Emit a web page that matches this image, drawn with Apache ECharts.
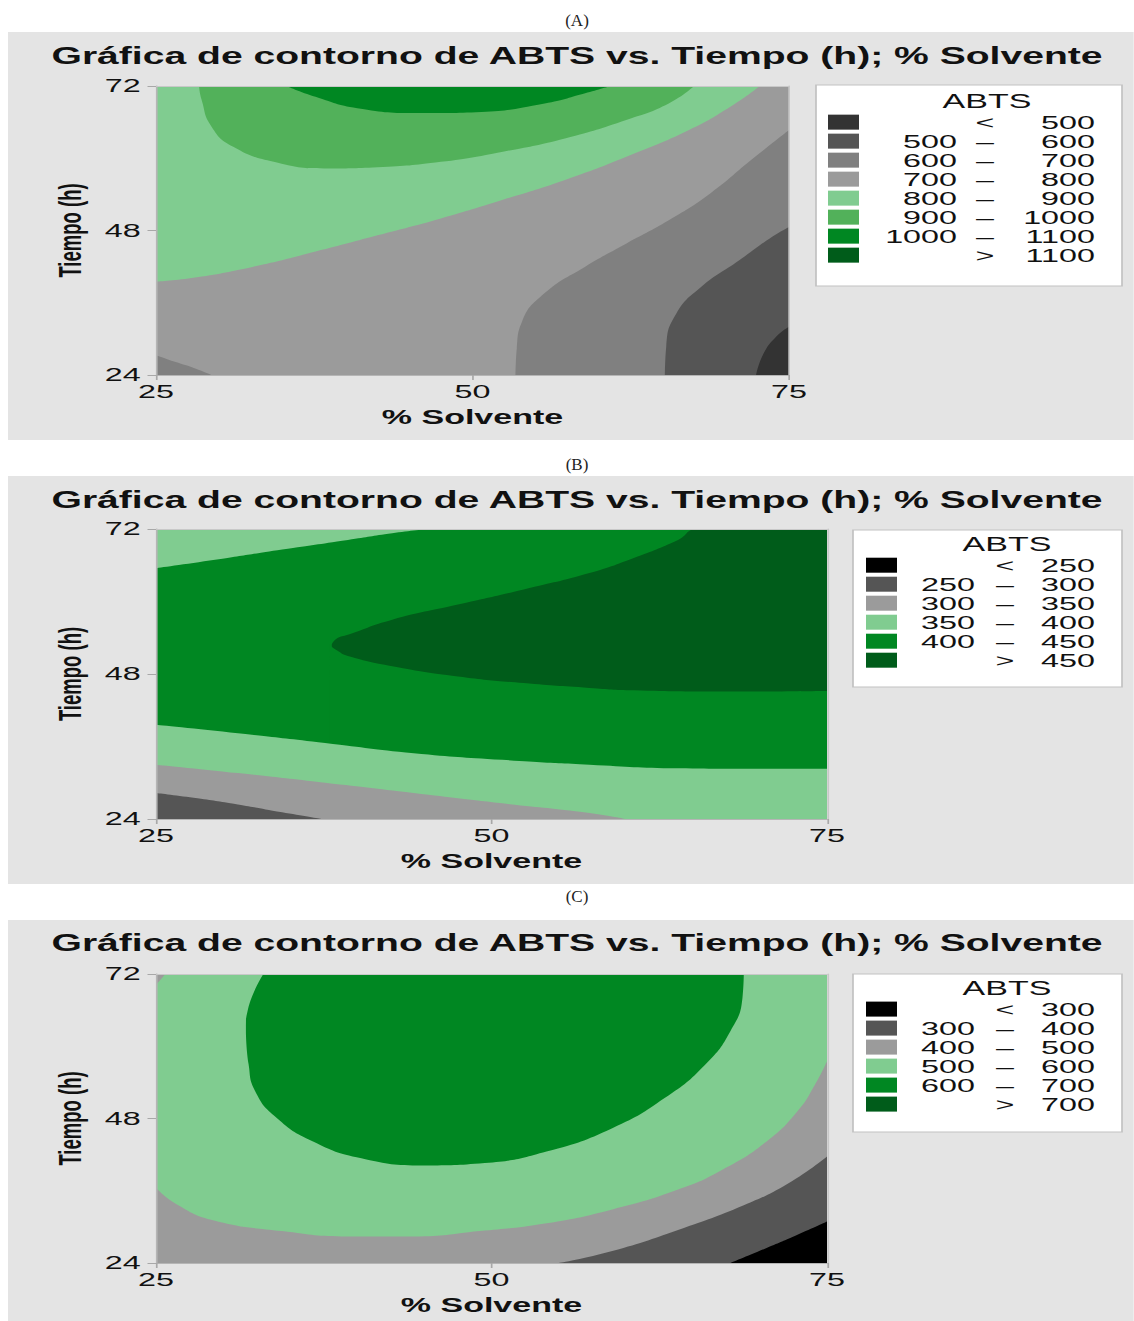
<!DOCTYPE html>
<html>
<head>
<meta charset="utf-8">
<script src="https://cdn.jsdelivr.net/npm/echarts@6/dist/echarts.min.js"></script>
<style>
    body{ margin: 0; background: #fff; }
    #page{ position: relative; width: 1134px; height: 1321px; overflow: hidden; background: #fff; }
    .tag{ position: absolute; left: 0; width: 1154px; text-align: center; font: 17px "Liberation Serif", serif; color: #222; }
    .panel{ position: absolute; left: 8px; background: #e4e4e4; transform-origin: 0 0; }
</style>
</head>
<body>
<div id="page">
    <div class="tag" style="top:11px">(A)</div>
    <div class="panel" id="chartA" style="top:32px;height:408px"></div>
    <div class="tag" style="top:455px">(B)</div>
    <div class="panel" id="chartB" style="top:476px;height:408px"></div>
    <div class="tag" style="top:887px">(C)</div>
    <div class="panel" id="chartC" style="top:920px;height:401px"></div>
</div>
<script>
    // the source picture is stretched sideways, so each chart is drawn narrow and scaled in x
    const S = 1.7;
    const FONT = '"Liberation Sans", Arial, sans-serif';

    const xTicks = [25, 50, 75];
    const yTicks = [24, 48, 72];

    // ABTS contour levels of each plot
    const levelsA = [500, 600, 700, 800, 900, 1000, 1100];
    const levelsB = [250, 300, 350, 400, 450];
    const levelsC = [300, 400, 500, 600, 700];

    // contour lines, [% Solvente, Tiempo (h)]
    // (A)
    const lineA800 = [[25,39.5],[27.8,40.1],[32.7,42.0],[37.6,44.5],[42.5,47.2],[47.5,50.0],[52.4,53.1],[57.3,56.4],[62.2,60.3],[67.1,64.7],[70.4,68.6],[72.7,72]];
    const lineA900 = [[28.4,72],[28.6,69.7],[29.4,65.2],[31.1,61.9],[34.3,59.4],[38.3,58.3],[42.5,58.5],[47.5,59.4],[52.4,61.1],[57.3,63.3],[62.2,66.4],[65.5,69.1],[67.5,72]];
    const lineA1000 = [[35.3,72],[37.6,70.2],[40.9,68.3],[45.8,67.5],[50.7,67.7],[55.7,69.1],[58.9,70.8],[60.9,72]];
    const lineA700 = [[53.4,24],[53.5,28.5],[53.9,32.8],[55.7,37.6],[58.9,42.0],[62.2,45.9],[65.5,49.7],[68.8,54.2],[72.0,59.7],[75,64.7]];
    const lineA700b = [[25,27.3],[26.5,26.2],[28.1,25.1],[29.4,24]];
    const lineA600 = [[65.2,24],[65.3,28.7],[66.1,34.2],[68.1,38.7],[71.1,43.1],[73.7,47.0],[75,48.6]];
    const lineA500 = [[72.4,24],[73.0,27.6],[74.0,30.4],[75,32.0]];
    // (B)
    const lineB400top = [[25,65.5],[29.4,66.9],[34.4,68.6],[39.3,70.2],[42.6,71.3],[45.2,72]];
    const lineB450top = [[38.1,52.9],[38.5,53.9],[39.3,54.5],[42.6,57.0],[47.5,59.5],[52.4,62.0],[57.3,64.7],[60.6,67.2],[63.9,70.2],[65.4,72],[75,72]];
    const lineB450bot = [[37.9,52.9],[38.5,51.9],[39.3,51.0],[42.6,49.3],[47.5,47.6],[52.4,46.5],[57.3,45.7],[60.6,45.3],[67.1,45.1],[75,45.2]];
    const lineB400 = [[25,39.6],[31.1,38.2],[37.6,36.6],[44.2,34.9],[50.8,33.8],[57.3,33.0],[63.9,32.4],[70.5,32.3],[75,32.3]];
    const lineB350 = [[25,33.0],[31.1,31.6],[37.6,30.0],[44.2,28.3],[50.8,26.6],[57.3,25.0],[60.0,24]];
    const lineB300 = [[25,28.3],[27.8,27.5],[31.1,26.4],[34.4,25.1],[37.3,24]];
    // (C)
    const lineC500 = [[25,36.5],[26.5,33.8],[29.4,31.0],[34.4,29.3],[39.3,28.4],[44.2,28.4],[49.1,29.3],[54.1,30.6],[59.0,32.9],[63.9,36.2],[67.2,39.5],[70.5,44.2],[72.8,49.2],[74.1,53.6],[75,57.5]];
    const lineC500corner = [[25,70.2],[25.7,72]];
    const lineC600 = [[31.7,62.5],[31.9,57.0],[32.4,52.5],[34.0,48.1],[36.7,44.2],[40.3,41.4],[44.9,40.2],[49.5,40.6],[54.1,42.5],[59.0,46.4],[62.9,51.4],[65.9,56.9],[67.8,62.5],[68.7,68.0],[68.8,72]];
    const lineC600edge = [[31.6,62.5],[31.8,65.6],[32.3,69.0],[33.0,72]];
    const lineC400 = [[55.0,24],[59.0,26.0],[63.9,29.5],[68.8,33.6],[72.1,37.2],[75,41.7]];
    const lineC300 = [[67.8,24],[70.5,26.5],[72.8,28.7],[75,30.9]];

    // whole plot area, used as the bottom layer
    const fullArea = [[xTicks[0], yTicks[2]], [xTicks[2], yTicks[2]]];

    const panels = [
        {
            id: 'chartA', top: 32, height: 408,
            plot: [156, 86, 789, 375], box: [816, 85, 1122, 286],
            swatch: 828, row0: 123, step: 20.7, abts: [987, 101], cols: [957, 985, 1095], titleY: 56,
            levels: levelsA,
            colors: ['#333333', '#555555', '#808080', '#9b9b9b', '#80cc90', '#52b15a', '#008722', '#005c1a'],
            // [band, line, fill side]
            layers: [[3, fullArea, 'start'], [4, lineA800, 'end'], [5, lineA900, 'end'], [6, lineA1000, 'end'],
                [2, lineA700, 'start'], [2, lineA700b, 'start'], [1, lineA600, 'start'], [0, lineA500, 'start']]
        },
        {
            id: 'chartB', top: 476, height: 408,
            plot: [156, 529, 827, 819], box: [853, 530, 1122, 687],
            swatch: 866, row0: 566, step: 20.6, abts: [1007, 544], cols: [975, 1005, 1095], titleY: 500,
            levels: levelsB,
            colors: ['#000000', '#555555', '#9b9b9b', '#80cc90', '#008722', '#005c1a'],
            layers: [[4, fullArea, 'start'], [5, lineB450top, 'start'], [4, lineB450bot, 'start'], [3, lineB400, 'start'],
                [2, lineB350, 'start'], [1, lineB300, 'start'], [3, lineB400top, 'end']]
        },
        {
            id: 'chartC', top: 920, height: 401,
            plot: [156, 974, 827, 1263], box: [853, 974, 1122, 1132],
            swatch: 866, row0: 1010, step: 20.8, abts: [1007, 988], cols: [975, 1005, 1095], titleY: 943,
            levels: levelsC,
            colors: ['#000000', '#555555', '#9b9b9b', '#80cc90', '#008722', '#005c1a'],
            layers: [[2, fullArea, 'start'], [3, lineC500, 'end'], [2, lineC500corner, 'end'], [4, lineC600, 'end'],
                [3, lineC600edge, 'end'], [1, lineC400, 'start'], [0, lineC300, 'start']]
        }
    ];

    const measureCtx = document.createElement('canvas').getContext('2d');
    function textWidth(s, size) {
        measureCtx.font = size + 'px ' + FONT;
        return measureCtx.measureText(s).width;
    }

    function bandParts(lv) {
        let out = [[' ', '<', String(lv[0])]];
        for (let i = 0; i < lv.length - 1; i++) {
            out.push([String(lv[i]), '–', String(lv[i + 1])]);
        }
        out.push([' ', '>', String(lv[lv.length - 1])]);
        return out;
    }

    function render(p) {
        let el = document.getElementById(p.id);
        let W = 1126 / S;
        el.style.width = W + 'px';
        el.style.transform = 'scaleX(' + S + ')';
        let cx = v => (v - 8) / S;
        let cy = v => v - p.top;

        let parts = bandParts(p.levels);
        let names = parts.map(q => (q[0].trim() ? q[0] + ' ' : '') + q[1] + ' ' + q[2]);
        let rowOf = {};
        names.forEach((n, k) => { rowOf[n] = k; });

        let series = p.layers.map((ly, i) => ({
            name: names[ly[0]],
            type: 'line',
            data: ly[1],
            smooth: 0.5,
            symbol: 'none',
            z: 2 + i,
            color: p.colors[ly[0]],
            lineStyle: { width: 0 },
            areaStyle: { color: p.colors[ly[0]], opacity: 1, origin: ly[2] },
            silent: true,
            animation: false
        }));
        names.forEach((n, k) => {
            if (!p.layers.some(ly => ly[0] === k)) {
                series.push({ name: n, type: 'line', data: [], symbol: 'none', color: p.colors[k], lineStyle: { width: 0 } });
            }
        });

        // legend columns: left number right-aligned, symbol centred, right number right-aligned
        let textStart = cx(p.swatch) + 31 / S + 5;
        let aW = cx(p.cols[0]) - textStart;
        let bW = 2 * (cx(p.cols[1]) - cx(p.cols[0]));
        let cW = cx(p.cols[2]) - cx(p.cols[0]) - bW;
        let legendFont = { fontSize: 19, fontFamily: FONT, color: '#111', lineHeight: p.step };
        let rich = {
            a: Object.assign({}, legendFont),
            b: Object.assign({ width: bW, align: 'center' }, legendFont),
            c: Object.assign({ width: cW, align: 'right' }, legendFont)
        };
        parts.forEach((q, k) => {
            rich['p' + k] = Object.assign({ width: Math.max(0, aW - textWidth(q[0], 19)) }, legendFont);
        });

        let chart = echarts.init(el, null, { renderer: 'svg', width: W, height: p.height });
        chart.setOption({
            backgroundColor: '#e4e4e4',
            animation: false,
            title: {
                text: 'Gráfica de contorno de ABTS vs. Tiempo (h); % Solvente',
                left: cx(577),
                textAlign: 'center',
                top: cy(p.titleY) - 11.5,
                padding: 0,
                textStyle: { fontSize: 23, fontWeight: 'bold', color: '#111', fontFamily: FONT }
            },
            grid: {
                left: cx(p.plot[0]),
                top: cy(p.plot[1]),
                width: (p.plot[2] - p.plot[0]) / S,
                height: p.plot[3] - p.plot[1],
                outerBoundsMode: 'none',
                show: false
            },
            xAxis: [
                {
                    type: 'value', min: xTicks[0], max: xTicks[2], interval: xTicks[1] - xTicks[0],
                    position: 'bottom', z: 50,
                    axisLine: { show: true, onZero: false, lineStyle: { color: '#b5b5b5', width: 1 } },
                    axisTick: { show: true, length: 5, lineStyle: { color: '#a8a8a8' } },
                    axisLabel: { fontSize: 19, color: '#111', fontFamily: FONT, margin: 7 },
                    splitLine: { show: false },
                    name: '% Solvente', nameLocation: 'middle', nameGap: 32,
                    nameTextStyle: { fontSize: 20, fontWeight: 'bold', color: '#111', fontFamily: FONT }
                },
                {
                    type: 'value', min: xTicks[0], max: xTicks[2], position: 'top', z: 50,
                    axisLine: { show: true, onZero: false, lineStyle: { color: '#c8c8c8', width: 1 } },
                    axisTick: { show: false }, axisLabel: { show: false }, splitLine: { show: false }
                }
            ],
            yAxis: [
                {
                    type: 'value', min: yTicks[0], max: yTicks[2], interval: yTicks[1] - yTicks[0],
                    position: 'left', z: 50,
                    axisLine: { show: true, onZero: false, lineStyle: { color: '#b5b5b5', width: 1 } },
                    axisTick: { show: true, length: 5, lineStyle: { color: '#a8a8a8' } },
                    axisLabel: { fontSize: 19, color: '#111', fontFamily: FONT, margin: 9 },
                    splitLine: { show: false },
                    name: 'Tiempo (h)', nameLocation: 'middle', nameRotate: 90, nameGap: 41,
                    nameTextStyle: { fontSize: 18.5, fontWeight: 'bold', color: '#111',
                        fontFamily: '"Liberation Sans Narrow", "Liberation Sans", sans-serif' }
                },
                {
                    type: 'value', min: yTicks[0], max: yTicks[2], position: 'right', z: 50,
                    axisLine: { show: true, onZero: false, lineStyle: { color: '#c8c8c8', width: 1 } },
                    axisTick: { show: false }, axisLabel: { show: false }, splitLine: { show: false }
                }
            ],
            legend: {
                data: names,
                orient: 'vertical',
                left: cx(p.swatch),
                top: cy(p.row0) - p.step / 2,
                itemWidth: 31 / S,
                itemHeight: 15,
                itemGap: 0,
                icon: 'rect',
                padding: 0,
                selectedMode: false,
                itemStyle: { borderWidth: 0 },
                formatter: function (name) {
                    let k = rowOf[name];
                    let q = parts[k];
                    return '{p' + k + '| }{a|' + q[0] + '}{b|' + q[1] + '}{c|' + q[2] + '}';
                },
                textStyle: { fontSize: 19, fontFamily: FONT, color: '#111', rich: rich }
            },
            graphic: [
                {
                    type: 'rect', x: cx(p.box[0]), y: cy(p.box[1]), silent: true,
                    shape: { x: 0, y: 0, width: (p.box[2] - p.box[0]) / S, height: p.box[3] - p.box[1] },
                    style: { fill: '#ffffff', stroke: '#c2c2c2', lineWidth: 1 }
                },
                {
                    type: 'text', x: cx(p.abts[0]), y: cy(p.abts[1]), silent: true,
                    style: { text: 'ABTS', fontSize: 20, fontFamily: FONT, fill: '#111', align: 'center', verticalAlign: 'middle' }
                }
            ],
            series: series
        });
    }

    panels.forEach(render);
</script>
</body>
</html>
